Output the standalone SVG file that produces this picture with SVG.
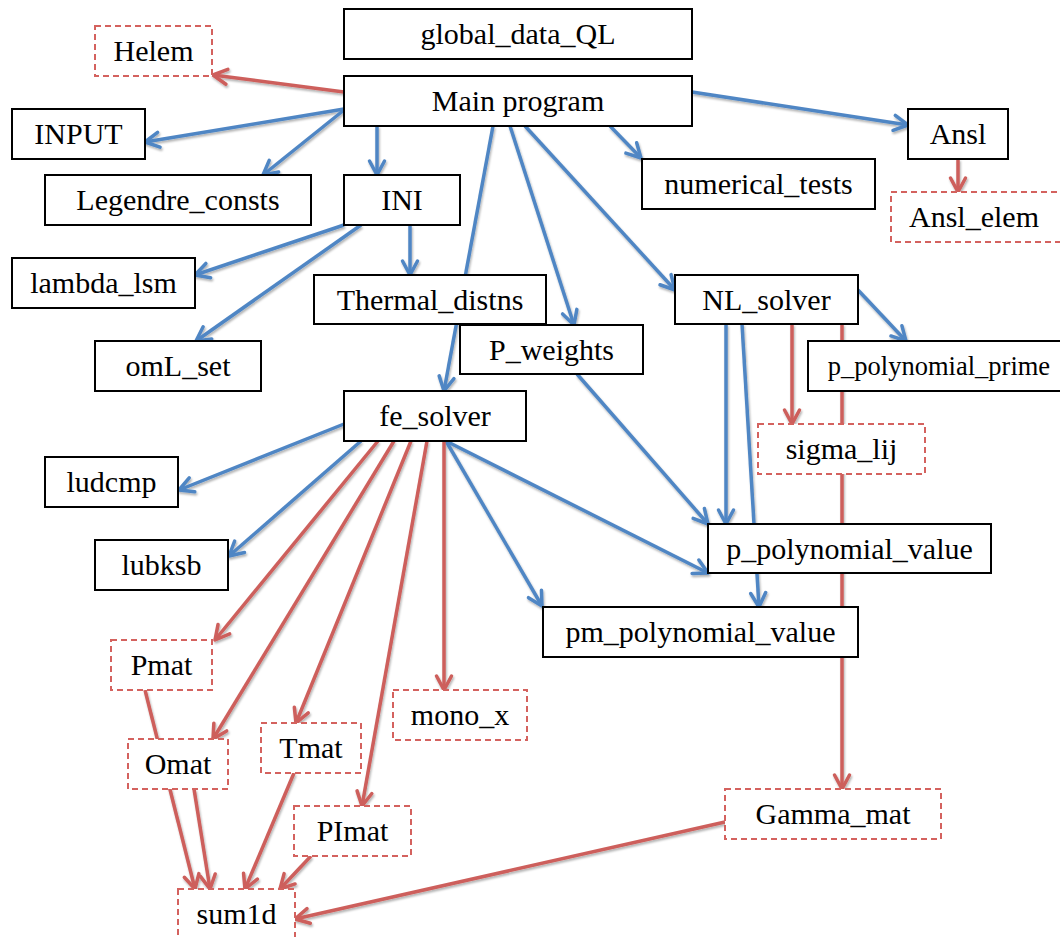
<svg xmlns="http://www.w3.org/2000/svg" width="1060" height="937" viewBox="0 0 1060 937">
<style>
.n rect{fill:#fff;stroke:#000;stroke-width:2}
.d rect{fill:#fff;stroke:#D4625E;stroke-width:2;stroke-dasharray:6 4}
text{font-family:"Liberation Serif","Times New Roman",serif;font-size:30px;fill:#000;text-anchor:middle}
.b{fill:none;stroke:#5086C4;stroke-width:3.5;marker-end:url(#ab)}
.r{fill:none;stroke:#CD5F5B;stroke-width:3.5;marker-end:url(#ar)}
</style>
<defs>
<filter id="sh" x="-10%" y="-10%" width="120%" height="120%">
<feDropShadow dx="1" dy="2" stdDeviation="1.2" flood-color="#000" flood-opacity="0.3"/>
</filter>
<marker id="ab" markerUnits="userSpaceOnUse" markerWidth="24" markerHeight="24" refX="18" refY="10" orient="auto" overflow="visible">
<path d="M4,2.5 L18,10 L4,17.5" fill="none" stroke="#5086C4" stroke-width="3.5" stroke-linecap="round" stroke-linejoin="round"/>
</marker>
<marker id="ar" markerUnits="userSpaceOnUse" markerWidth="24" markerHeight="24" refX="18" refY="10" orient="auto" overflow="visible">
<path d="M4,2.5 L18,10 L4,17.5" fill="none" stroke="#CD5F5B" stroke-width="3.5" stroke-linecap="round" stroke-linejoin="round"/>
</marker>
</defs>
<rect width="1060" height="937" fill="#fff"/>
<g id="connectors" filter="url(#sh)">
<path class="b" d="M344,109 L145,142"/>
<path class="b" d="M344,110 L263,175"/>
<path class="b" d="M377,126 L377,175"/>
<path class="b" d="M493,126 L444,391"/>
<path class="b" d="M510,126 L574,325"/>
<path class="b" d="M525,126 L675,290"/>
<path class="b" d="M610,126 L641,158"/>
<path class="b" d="M692,92 L908,125"/>
<path class="b" d="M344,225 L195,275"/>
<path class="b" d="M361,225 L196,341"/>
<path class="b" d="M410,225 L410,275"/>
<path class="b" d="M858,290 L906,341"/>
<path class="b" d="M726,324 L726,524"/>
<path class="b" d="M742,324 L759,607"/>
<path class="b" d="M577,374 L708,524"/>
<path class="b" d="M446,441 L708,573"/>
<path class="b" d="M446,441 L542,606"/>
<path class="b" d="M344,424 L179,490"/>
<path class="b" d="M361,441 L229,556"/>
<path class="r" d="M344,92 L213,75"/>
<path class="r" d="M958,159 L958,192"/>
<path class="r" d="M792,324 L792,424"/>
<path class="r" d="M842,324 L842,789"/>
<path class="r" d="M378,441 L215,640"/>
<path class="r" d="M394,441 L213,739"/>
<path class="r" d="M411,441 L296,723"/>
<path class="r" d="M427,441 L362,806"/>
<path class="r" d="M444,441 L444,690"/>
<path class="r" d="M145,690 L195,889"/>
<path class="r" d="M194,789 L210,889"/>
<path class="r" d="M294,773 L245,889"/>
<path class="r" d="M311,856 L280,889"/>
<path class="r" d="M725,822 L295,919"/>
</g>
<g id="global_data_QL" class="n"><rect x="344" y="9" width="348" height="50"/><text x="518" y="44">global_data_QL</text></g>
<g id="main_program" class="n"><rect x="344" y="76" width="348" height="50"/><text x="518" y="111">Main program</text></g>
<g id="Helem" class="d"><rect x="95" y="26" width="117" height="50"/><text x="153.5" y="61">Helem</text></g>
<g id="INPUT" class="n"><rect x="12" y="109" width="133" height="50"/><text x="78.5" y="144">INPUT</text></g>
<g id="Legendre_consts" class="n"><rect x="45" y="175" width="266" height="50"/><text x="178" y="210">Legendre_consts</text></g>
<g id="INI" class="n"><rect x="344" y="175" width="116" height="50"/><text x="402" y="210">INI</text></g>
<g id="Ansl" class="n"><rect x="908" y="109" width="100" height="50"/><text x="958" y="144">Ansl</text></g>
<g id="numerical_tests" class="n"><rect x="642" y="159" width="233" height="50"/><text x="758.5" y="194">numerical_tests</text></g>
<g id="Ansl_elem" class="d"><rect x="891" y="192" width="175" height="50"/><text x="974" y="227">Ansl_elem</text></g>
<g id="lambda_lsm" class="n"><rect x="12" y="258" width="183" height="50"/><text x="103.5" y="293">lambda_lsm</text></g>
<g id="Thermal_distns" class="n"><rect x="314" y="275" width="232" height="49"/><text x="430" y="310">Thermal_distns</text></g>
<g id="NL_solver" class="n"><rect x="675" y="275" width="183" height="49"/><text x="766.5" y="310">NL_solver</text></g>
<g id="P_weights" class="n"><rect x="460" y="325" width="183" height="49"/><text x="551.5" y="360">P_weights</text></g>
<g id="p_polynomial_prime" class="n"><rect x="808" y="341" width="258" height="50"/><text x="939" y="375" style="font-size:26.5px">p_polynomial_prime</text></g>
<g id="omL_set" class="n"><rect x="95" y="341" width="166" height="50"/><text x="178" y="376">omL_set</text></g>
<g id="fe_solver" class="n"><rect x="344" y="391" width="182" height="50"/><text x="435" y="426">fe_solver</text></g>
<g id="sigma_lij" class="d"><rect x="758" y="424" width="167" height="50"/><text x="841.5" y="459">sigma_lij</text></g>
<g id="ludcmp" class="n"><rect x="45" y="457" width="133" height="50"/><text x="111.5" y="492">ludcmp</text></g>
<g id="p_polynomial_value" class="n"><rect x="708" y="524" width="283" height="49"/><text x="849.5" y="559">p_polynomial_value</text></g>
<g id="lubksb" class="n"><rect x="95" y="540" width="133" height="50"/><text x="161.5" y="575">lubksb</text></g>
<g id="pm_polynomial_value" class="n"><rect x="543" y="607" width="315" height="50"/><text x="700.5" y="642">pm_polynomial_value</text></g>
<g id="Pmat" class="d"><rect x="111" y="640" width="101" height="50"/><text x="161.5" y="675">Pmat</text></g>
<g id="mono_x" class="d"><rect x="393" y="690" width="134" height="50"/><text x="460" y="725">mono_x</text></g>
<g id="Tmat" class="d"><rect x="261" y="723" width="100" height="50"/><text x="311" y="758">Tmat</text></g>
<g id="Omat" class="d"><rect x="128" y="739" width="100" height="50"/><text x="178" y="774">Omat</text></g>
<g id="Gamma_mat" class="d"><rect x="725" y="789" width="216" height="50"/><text x="833" y="824">Gamma_mat</text></g>
<g id="PImat" class="d"><rect x="294" y="806" width="117" height="50"/><text x="352.5" y="841">PImat</text></g>
<g id="sum1d" class="d"><rect x="178" y="889" width="117" height="56"/><text x="236.5" y="924">sum1d</text></g>
</svg>
